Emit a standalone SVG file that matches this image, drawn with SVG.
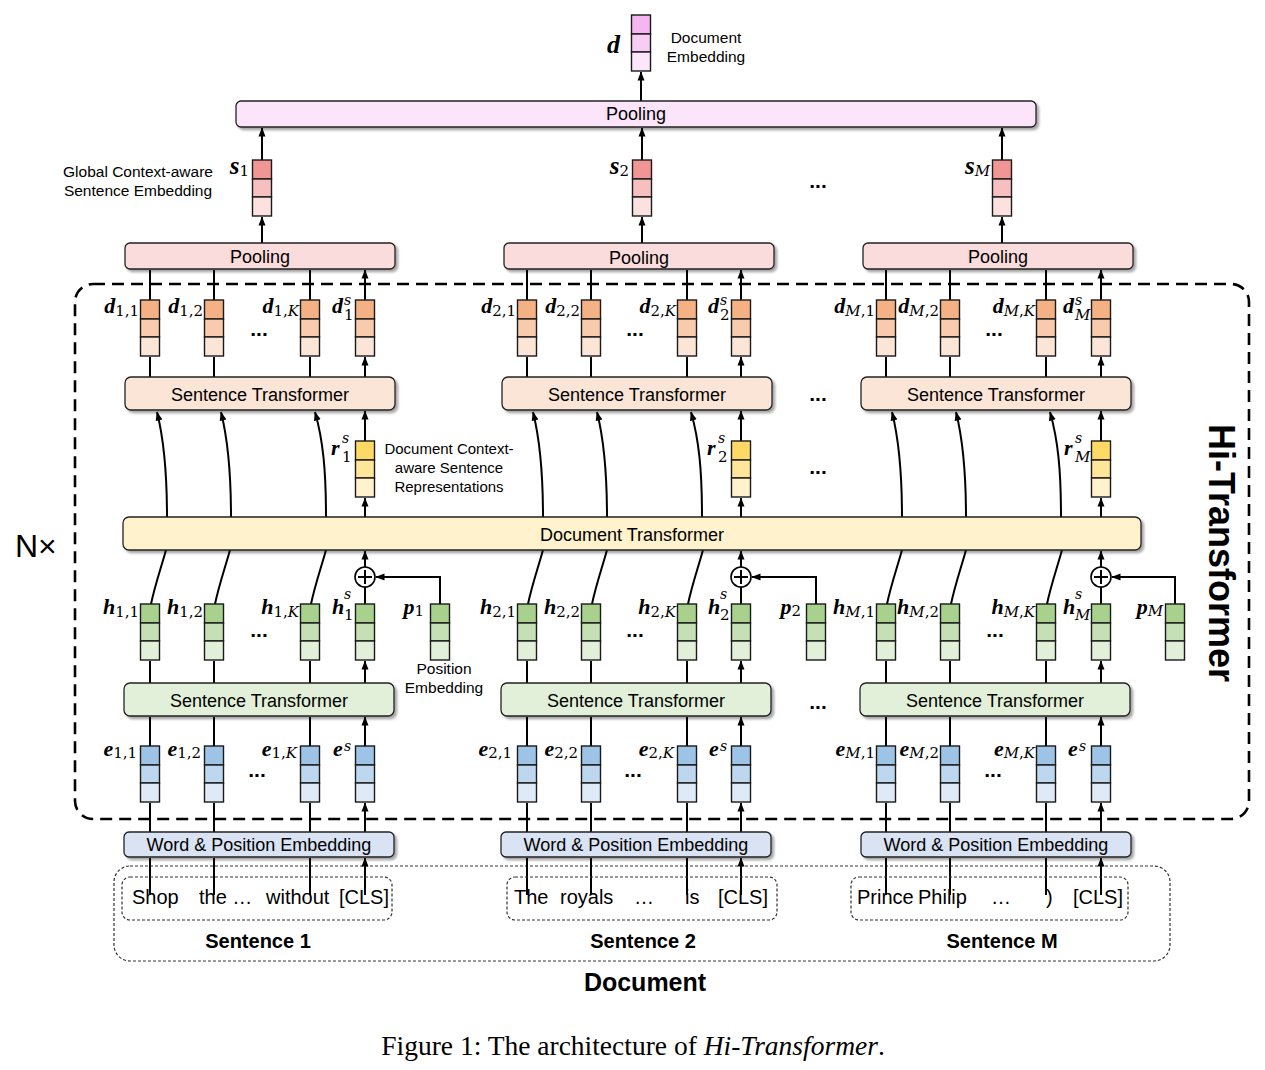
<svg xmlns="http://www.w3.org/2000/svg" width="1265" height="1070" viewBox="0 0 1265 1070">
<style>
 text{font-family:"Liberation Sans",Arial,sans-serif;fill:#000}
 .t18{font-size:18px;text-anchor:middle}
 .ann{font-size:15.5px;text-anchor:middle}
 .wd{font-size:20px}
 .bd{font-weight:bold;text-anchor:middle}
 .m{font-family:"Liberation Serif","Times New Roman",serif;font-weight:bold;font-style:italic;font-size:22px}
 .big{font-size:25px}
 .sb{font-family:"DejaVu Serif",serif;font-weight:normal;font-style:normal;font-size:15px}
 .sp{font-family:"DejaVu Serif",serif;font-weight:normal;font-style:italic;font-size:14px}
 .it{font-style:italic}
 .bx{stroke:#222;stroke-width:1.3;filter:url(#sh)}
 .cell{stroke:#1a1a1a;stroke-width:1.4}
 .ar{stroke:#000;stroke-width:2;fill:none;marker-end:url(#ah)}
 .ln{stroke:#000;stroke-width:2;fill:none}
 .dots{font-weight:bold;font-size:21px;text-anchor:middle}
 .dash{fill:none;stroke:#000;stroke-width:2.6;stroke-dasharray:12 7}
 .fd{fill:none;stroke:#333;stroke-width:1.2;stroke-dasharray:3 2}
 .cap{font-family:"Liberation Serif","Times New Roman",serif;font-size:27.5px;text-anchor:middle}
</style>
<defs>
 <marker id="ah" markerUnits="userSpaceOnUse" markerWidth="9" markerHeight="8" refX="8.5" refY="4" orient="auto" viewBox="0 0 9 8">
  <path d="M0,0.5 L9,4 L0,7.5 z" fill="#000"/>
 </marker>
 <filter id="sh" x="-5%" y="-30%" width="110%" height="170%">
  <feDropShadow dx="2.5" dy="2.5" stdDeviation="1.3" flood-color="#000" flood-opacity="0.35"/>
 </filter>
 <g id="vD"><rect class="cell" x="-9.5" y="0" width="19" height="19" fill="#F5B5F0"/><rect class="cell" x="-9.5" y="19" width="19" height="18" fill="#F8CDF5"/><rect class="cell" x="-9.5" y="37" width="19" height="19" fill="#FCE6FB"/></g>
 <g id="vS"><rect class="cell" x="-9.5" y="0" width="19" height="19" fill="#F29595"/><rect class="cell" x="-9.5" y="19" width="19" height="18" fill="#F7C0C0"/><rect class="cell" x="-9.5" y="37" width="19" height="19" fill="#FCE1E1"/></g>
 <g id="vO"><rect class="cell" x="-9.5" y="0" width="19" height="19" fill="#F4B183"/><rect class="cell" x="-9.5" y="19" width="19" height="18" fill="#F8CBAD"/><rect class="cell" x="-9.5" y="37" width="19" height="19" fill="#FBE5D6"/></g>
 <g id="vY"><rect class="cell" x="-9.5" y="0" width="19" height="19" fill="#FFD966"/><rect class="cell" x="-9.5" y="19" width="19" height="18" fill="#FFE699"/><rect class="cell" x="-9.5" y="37" width="19" height="19" fill="#FFF2CC"/></g>
 <g id="vG"><rect class="cell" x="-9.5" y="0" width="19" height="19" fill="#A9D18E"/><rect class="cell" x="-9.5" y="19" width="19" height="18" fill="#C5E0B4"/><rect class="cell" x="-9.5" y="37" width="19" height="19" fill="#E2F0D9"/></g>
 <g id="vB"><rect class="cell" x="-9.5" y="0" width="19" height="19" fill="#9DC3E6"/><rect class="cell" x="-9.5" y="19" width="19" height="18" fill="#BDD7EE"/><rect class="cell" x="-9.5" y="37" width="19" height="19" fill="#DEEBF7"/></g>
 <g id="plus"><circle cx="0" cy="0" r="10" fill="#fff" stroke="#000" stroke-width="1.6"/><path d="M-7,0 H7 M0,-7 V7" stroke="#000" stroke-width="2"/></g>
</defs>
<rect width="1265" height="1070" fill="#fff"/>

<!-- frames -->
<g id="hi-transformer-frame">
 <rect class="dash" x="75" y="284" width="1174" height="535" rx="18"/>
 <text x="15" y="557" style="font-size:32px">N×</text>
 <text transform="translate(1222,553) rotate(90)" y="13" style="font-size:36px;font-weight:bold;text-anchor:middle">Hi-Transformer</text>
</g>
<g id="document-frame">
 <rect class="fd" x="114" y="866" width="1056" height="95" rx="16"/>
 <text class="bd" x="645" y="991" style="font-size:25px">Document</text>
</g>

<!-- connectors -->
<g id="connectors">
 <!-- sentence 1 -->
 <path class="ar" d="M150,895 V858 M214,895 V858 M310,895 V858 M365,895 V858"/>
 <path class="ar" d="M150,832 V803 M214,832 V803 M310,832 V803 M365,832 V803"/>
 <path class="ar" d="M150,746 V717 M214,746 V717 M310,746 V717 M365,746 V717"/>
 <path class="ar" d="M150,683 V661 M214,683 V661 M310,683 V661 M365,683 V661"/>
 <path class="ln" d="M151,604 C155,585 161,568 166,550 M215,604 C219,585 225,568 230,550 M311,604 C315,585 321,568 326,550 M365,604 V587"/>
 <path class="ar" d="M365,567 V551"/>
 <path class="ar" d="M440,604 V577 H376"/>
 <path class="ar" d="M365,517 V498"/>
 <path class="ar" d="M167,517 C167,470 164,440 157,412"/>
 <path class="ar" d="M231,517 C231,470 228,440 221,412"/>
 <path class="ar" d="M326,517 C326,470 323,440 315,412"/>
 <path class="ar" d="M365,441 V411"/>
 <path class="ar" d="M150,377 V357 M214,377 V357 M310,377 V357 M365,377 V357"/>
 <path class="ar" d="M150,300 V270 M214,300 V270 M310,300 V270 M365,300 V270"/>
 <path class="ar" d="M262,243 V217"/>
 <path class="ar" d="M262,160 V128"/>
 <!-- sentence 2 -->
 <path class="ar" d="M527,895 V858 M591,895 V858 M687,895 V858 M741,895 V858"/>
 <path class="ar" d="M527,832 V803 M591,832 V803 M687,832 V803 M741,832 V803"/>
 <path class="ar" d="M527,746 V717 M591,746 V717 M687,746 V717 M741,746 V717"/>
 <path class="ar" d="M527,683 V661 M591,683 V661 M687,683 V661 M741,683 V661"/>
 <path class="ln" d="M528,604 C532,585 538,568 543,550 M592,604 C596,585 602,568 607,550 M688,604 C692,585 698,568 703,550 M741,604 V587"/>
 <path class="ar" d="M741,567 V551"/>
 <path class="ar" d="M816,604 V577 H752"/>
 <path class="ar" d="M741,517 V498"/>
 <path class="ar" d="M543,517 C543,470 540,440 533,412"/>
 <path class="ar" d="M607,517 C607,470 604,440 597,412"/>
 <path class="ar" d="M702,517 C702,470 699,440 691,412"/>
 <path class="ar" d="M741,441 V411"/>
 <path class="ar" d="M527,377 V357 M591,377 V357 M687,377 V357 M741,377 V357"/>
 <path class="ar" d="M527,300 V270 M591,300 V270 M687,300 V270 M741,300 V270"/>
 <path class="ar" d="M642,243 V217"/>
 <path class="ar" d="M642,160 V128"/>
 <!-- sentence M -->
 <path class="ar" d="M886,895 V858 M950,895 V858 M1046,895 V858 M1101,895 V858"/>
 <path class="ar" d="M886,832 V803 M950,832 V803 M1046,832 V803 M1101,832 V803"/>
 <path class="ar" d="M886,746 V717 M950,746 V717 M1046,746 V717 M1101,746 V717"/>
 <path class="ar" d="M886,683 V661 M950,683 V661 M1046,683 V661 M1101,683 V661"/>
 <path class="ln" d="M887,604 C891,585 897,568 902,550 M951,604 C955,585 961,568 966,550 M1047,604 C1051,585 1057,568 1062,550 M1101,604 V587"/>
 <path class="ar" d="M1101,567 V551"/>
 <path class="ar" d="M1175,604 V577 H1112"/>
 <path class="ar" d="M1101,517 V498"/>
 <path class="ar" d="M902,517 C902,470 899,440 892,412"/>
 <path class="ar" d="M966,517 C966,470 963,440 956,412"/>
 <path class="ar" d="M1061,517 C1061,470 1058,440 1050,412"/>
 <path class="ar" d="M1101,441 V411"/>
 <path class="ar" d="M886,377 V357 M950,377 V357 M1046,377 V357 M1101,377 V357"/>
 <path class="ar" d="M886,300 V270 M950,300 V270 M1046,300 V270 M1101,300 V270"/>
 <path class="ar" d="M1002,243 V217"/>
 <path class="ar" d="M1002,160 V128"/>
 <!-- top -->
 <path class="ar" d="M641,101 V72"/>
 <use href="#plus" x="365" y="577"/>
 <use href="#plus" x="741" y="577"/>
 <use href="#plus" x="1101" y="577"/>
</g>

<!-- document embedding -->
<g id="doc-embedding">
 <use href="#vD" x="641" y="15"/>
 <text class="m" x="607" y="53" style="font-size:26px">d</text>
 <text class="ann" x="706" y="43">Document</text>
 <text class="ann" x="706" y="62">Embedding</text>
</g>
<g id="pooling-doc">
 <rect class="bx" x="236" y="101" width="800" height="26" rx="5" fill="#FCE4FB"/>
 <text class="t18" x="636" y="120">Pooling</text>
</g>

<!-- sentence embeddings -->
<g id="s-vectors">
 <use href="#vS" x="262" y="160"/>
 <use href="#vS" x="642" y="160"/>
 <use href="#vS" x="1002" y="160"/>
 <text class="m big" x="249" y="174" text-anchor="end">s<tspan class="sb" dy="2">1</tspan></text>
 <text class="m big" x="629" y="174" text-anchor="end">s<tspan class="sb" dy="2">2</tspan></text>
 <text class="m big" x="990" y="174" text-anchor="end">s<tspan class="sb it" dy="2">M</tspan></text>
 <text class="ann" x="138" y="177">Global Context-aware</text>
 <text class="ann" x="138" y="196">Sentence Embedding</text>
 <text class="dots" x="818" y="188">...</text>
</g>

<g id="pooling-sentences">
 <rect class="bx" x="125" y="243" width="270" height="26" rx="5" fill="#FBDCDC"/>
 <text class="t18" x="260" y="263">Pooling</text>
 <rect class="bx" x="504" y="243" width="270" height="26" rx="5" fill="#FBDCDC"/>
 <text class="t18" x="639" y="264">Pooling</text>
 <rect class="bx" x="863" y="243" width="270" height="26" rx="5" fill="#FBDCDC"/>
 <text class="t18" x="998" y="263">Pooling</text>
</g>

<!-- d vectors -->
<g id="d-vectors">
 <use href="#vO" x="150" y="300"/><use href="#vO" x="214" y="300"/><use href="#vO" x="310" y="300"/><use href="#vO" x="365" y="300"/>
 <use href="#vO" x="527" y="300"/><use href="#vO" x="591" y="300"/><use href="#vO" x="687" y="300"/><use href="#vO" x="741" y="300"/>
 <use href="#vO" x="886" y="300"/><use href="#vO" x="950" y="300"/><use href="#vO" x="1046" y="300"/><use href="#vO" x="1101" y="300"/>
 <text class="m" x="139" y="313" text-anchor="end">d<tspan class="sb" dy="3">1,1</tspan></text>
 <text class="m" x="203" y="313" text-anchor="end">d<tspan class="sb" dy="3">1,2</tspan></text>
 <text class="m" x="299" y="313" text-anchor="end">d<tspan class="sb" dy="3">1,<tspan class="it">K</tspan></tspan></text>
 <text class="m" x="332" y="313">d</text><text class="sp" x="344" y="305">s</text><text class="sb" x="344" y="320">1</text>
 <text class="m" x="516" y="313" text-anchor="end">d<tspan class="sb" dy="3">2,1</tspan></text>
 <text class="m" x="580" y="313" text-anchor="end">d<tspan class="sb" dy="3">2,2</tspan></text>
 <text class="m" x="676" y="313" text-anchor="end">d<tspan class="sb" dy="3">2,<tspan class="it">K</tspan></tspan></text>
 <text class="m" x="708" y="313">d</text><text class="sp" x="720" y="305">s</text><text class="sb" x="720" y="320">2</text>
 <text class="m" x="875" y="313" text-anchor="end">d<tspan class="sb" dy="3"><tspan class="it">M</tspan>,1</tspan></text>
 <text class="m" x="939" y="313" text-anchor="end">d<tspan class="sb" dy="3"><tspan class="it">M</tspan>,2</tspan></text>
 <text class="m" x="1035" y="313" text-anchor="end">d<tspan class="sb" dy="3"><tspan class="it">M</tspan>,<tspan class="it">K</tspan></tspan></text>
 <text class="m" x="1063" y="313">d</text><text class="sp" x="1075" y="305">s</text><text class="sb it" x="1075" y="320">M</text>
 <text class="dots" x="259" y="336">...</text>
 <text class="dots" x="635" y="336">...</text>
 <text class="dots" x="994" y="336">...</text>
</g>

<!-- sentence transformers (upper) -->
<g id="sentence-transformer-upper">
 <rect class="bx" x="125" y="377" width="270" height="33" rx="6" fill="#FBE5D6"/>
 <text class="t18" x="260" y="401">Sentence Transformer</text>
 <rect class="bx" x="502" y="377" width="270" height="33" rx="6" fill="#FBE5D6"/>
 <text class="t18" x="637" y="401">Sentence Transformer</text>
 <rect class="bx" x="861" y="377" width="270" height="33" rx="6" fill="#FBE5D6"/>
 <text class="t18" x="996" y="401">Sentence Transformer</text>
 <text class="dots" x="818" y="401">...</text>
</g>

<!-- r vectors -->
<g id="r-vectors">
 <use href="#vY" x="365" y="441"/><use href="#vY" x="741" y="441"/><use href="#vY" x="1101" y="441"/>
 <text class="m" x="331" y="455">r</text><text class="sp" x="342" y="443">s</text><text class="sb" x="342" y="462">1</text>
 <text class="m" x="707" y="455">r</text><text class="sp" x="718" y="443">s</text><text class="sb" x="718" y="462">2</text>
 <text class="m" x="1064" y="455">r</text><text class="sp" x="1075" y="443">s</text><text class="sb it" x="1075" y="462">M</text>
 <text class="ann" x="449" y="454" style="font-size:15px">Document Context-</text>
 <text class="ann" x="449" y="473" style="font-size:15px">aware Sentence</text>
 <text class="ann" x="449" y="492" style="font-size:15px">Representations</text>
 <text class="dots" x="818" y="474">...</text>
</g>

<g id="document-transformer">
 <rect class="bx" x="123" y="517" width="1018" height="33" rx="6" fill="#FFF2CC"/>
 <text class="t18" x="632" y="541">Document Transformer</text>
</g>

<!-- h vectors -->
<g id="h-vectors">
 <use href="#vG" x="150" y="604"/><use href="#vG" x="214" y="604"/><use href="#vG" x="310" y="604"/><use href="#vG" x="365" y="604"/><use href="#vG" x="440" y="604"/>
 <use href="#vG" x="527" y="604"/><use href="#vG" x="591" y="604"/><use href="#vG" x="687" y="604"/><use href="#vG" x="741" y="604"/><use href="#vG" x="816" y="604"/>
 <use href="#vG" x="886" y="604"/><use href="#vG" x="950" y="604"/><use href="#vG" x="1046" y="604"/><use href="#vG" x="1101" y="604"/><use href="#vG" x="1175" y="604"/>
 <text class="m" x="139" y="614" text-anchor="end">h<tspan class="sb" dy="3">1,1</tspan></text>
 <text class="m" x="203" y="614" text-anchor="end">h<tspan class="sb" dy="3">1,2</tspan></text>
 <text class="m" x="299" y="614" text-anchor="end">h<tspan class="sb" dy="3">1,<tspan class="it">K</tspan></tspan></text>
 <text class="m" x="332" y="614">h</text><text class="sp" x="344" y="599">s</text><text class="sb" x="344" y="620">1</text>
 <text class="m" x="424" y="614" text-anchor="end">p<tspan class="sb" dy="2">1</tspan></text>
 <text class="m" x="516" y="614" text-anchor="end">h<tspan class="sb" dy="3">2,1</tspan></text>
 <text class="m" x="580" y="614" text-anchor="end">h<tspan class="sb" dy="3">2,2</tspan></text>
 <text class="m" x="676" y="614" text-anchor="end">h<tspan class="sb" dy="3">2,<tspan class="it">K</tspan></tspan></text>
 <text class="m" x="708" y="614">h</text><text class="sp" x="720" y="599">s</text><text class="sb" x="720" y="620">2</text>
 <text class="m" x="801" y="614" text-anchor="end">p<tspan class="sb" dy="2">2</tspan></text>
 <text class="m" x="875" y="614" text-anchor="end">h<tspan class="sb" dy="3"><tspan class="it">M</tspan>,1</tspan></text>
 <text class="m" x="939" y="614" text-anchor="end">h<tspan class="sb" dy="3"><tspan class="it">M</tspan>,2</tspan></text>
 <text class="m" x="1035" y="614" text-anchor="end">h<tspan class="sb" dy="3"><tspan class="it">M</tspan>,<tspan class="it">K</tspan></tspan></text>
 <text class="m" x="1063" y="614">h</text><text class="sp" x="1075" y="599">s</text><text class="sb it" x="1075" y="620">M</text>
 <text class="m" x="1163" y="614" text-anchor="end">p<tspan class="sb it" dy="2">M</tspan></text>
 <text class="ann" x="444" y="674">Position</text>
 <text class="ann" x="444" y="693">Embedding</text>
 <text class="dots" x="259" y="637">...</text>
 <text class="dots" x="635" y="637">...</text>
 <text class="dots" x="995" y="637">...</text>
</g>

<!-- sentence transformers (lower) -->
<g id="sentence-transformer-lower">
 <rect class="bx" x="124" y="683" width="270" height="33" rx="6" fill="#E2F0D9"/>
 <text class="t18" x="259" y="707">Sentence Transformer</text>
 <rect class="bx" x="501" y="683" width="270" height="33" rx="6" fill="#E2F0D9"/>
 <text class="t18" x="636" y="707">Sentence Transformer</text>
 <rect class="bx" x="860" y="683" width="270" height="33" rx="6" fill="#E2F0D9"/>
 <text class="t18" x="995" y="707">Sentence Transformer</text>
 <text class="dots" x="818" y="709">...</text>
</g>

<!-- e vectors -->
<g id="e-vectors">
 <use href="#vB" x="150" y="746"/><use href="#vB" x="214" y="746"/><use href="#vB" x="310" y="746"/><use href="#vB" x="365" y="746"/>
 <use href="#vB" x="527" y="746"/><use href="#vB" x="591" y="746"/><use href="#vB" x="687" y="746"/><use href="#vB" x="741" y="746"/>
 <use href="#vB" x="886" y="746"/><use href="#vB" x="950" y="746"/><use href="#vB" x="1046" y="746"/><use href="#vB" x="1101" y="746"/>
 <text class="m" x="137" y="756" text-anchor="end">e<tspan class="sb" dy="2">1,1</tspan></text>
 <text class="m" x="201" y="756" text-anchor="end">e<tspan class="sb" dy="2">1,2</tspan></text>
 <text class="m" x="297" y="756" text-anchor="end">e<tspan class="sb" dy="2">1,<tspan class="it">K</tspan></tspan></text>
 <text class="m" x="333" y="756">e</text><text class="sp" x="344" y="751">s</text>
 <text class="m" x="512" y="756" text-anchor="end">e<tspan class="sb" dy="2">2,1</tspan></text>
 <text class="m" x="578" y="756" text-anchor="end">e<tspan class="sb" dy="2">2,2</tspan></text>
 <text class="m" x="674" y="756" text-anchor="end">e<tspan class="sb" dy="2">2,<tspan class="it">K</tspan></tspan></text>
 <text class="m" x="709" y="756">e</text><text class="sp" x="720" y="751">s</text>
 <text class="m" x="875" y="756" text-anchor="end">e<tspan class="sb" dy="2"><tspan class="it">M</tspan>,1</tspan></text>
 <text class="m" x="939" y="756" text-anchor="end">e<tspan class="sb" dy="2"><tspan class="it">M</tspan>,2</tspan></text>
 <text class="m" x="1035" y="756" text-anchor="end">e<tspan class="sb" dy="2"><tspan class="it">M</tspan>,<tspan class="it">K</tspan></tspan></text>
 <text class="m" x="1068" y="756">e</text><text class="sp" x="1079" y="751">s</text>
 <text class="dots" x="257" y="777">...</text>
 <text class="dots" x="633" y="777">...</text>
 <text class="dots" x="993" y="777">...</text>
</g>

<!-- word & position embedding -->
<g id="word-position-embedding">
 <rect class="bx" x="124" y="832" width="270" height="25" rx="5" fill="#DAE3F3"/>
 <text class="t18" x="259" y="851">Word &amp; Position Embedding</text>
 <rect class="bx" x="501" y="832" width="270" height="25" rx="5" fill="#DAE3F3"/>
 <text class="t18" x="636" y="851">Word &amp; Position Embedding</text>
 <rect class="bx" x="861" y="832" width="270" height="25" rx="5" fill="#DAE3F3"/>
 <text class="t18" x="996" y="851">Word &amp; Position Embedding</text>
</g>

<!-- sentences -->
<g id="sentence-1">
 <rect class="fd" x="122" y="877" width="270" height="43" rx="8"/>
 <text class="wd" x="132" y="904">Shop</text>
 <text class="wd" x="199" y="904">the …</text>
 <text class="wd" x="266" y="904">without</text>
 <text class="wd" x="339" y="904">[CLS]</text>
 <text class="bd" x="258" y="948" style="font-size:20px">Sentence 1</text>
</g>
<g id="sentence-2">
 <rect class="fd" x="507" y="877" width="270" height="43" rx="8"/>
 <text class="wd" x="514" y="904">The</text>
 <text class="wd" x="560" y="904">royals</text>
 <text class="wd" x="634" y="904">…</text>
 <text class="wd" x="685" y="904">is</text>
 <text class="wd" x="718" y="904">[CLS]</text>
 <text class="bd" x="643" y="948" style="font-size:20px">Sentence 2</text>
</g>
<g id="sentence-M">
 <rect class="fd" x="851" y="877" width="277" height="43" rx="8"/>
 <text class="wd" x="857" y="904">Prince</text>
 <text class="wd" x="918" y="904">Philip</text>
 <text class="wd" x="991" y="904">…</text>
 <text class="wd" x="1046" y="904">)</text>
 <text class="wd" x="1073" y="904">[CLS]</text>
 <text class="bd" x="1002" y="948" style="font-size:20px">Sentence M</text>
</g>

<g id="caption">
 <text class="cap" x="633" y="1055">Figure 1: The architecture of <tspan class="it">Hi-Transformer</tspan>.</text>
</g>
</svg>
